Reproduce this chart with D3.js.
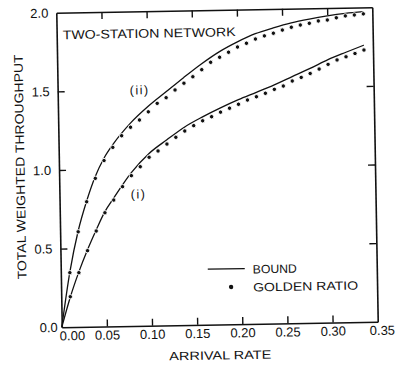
<!DOCTYPE html>
<html>
<head>
<meta charset="utf-8">
<script src="https://cdn.jsdelivr.net/npm/d3@7"></script>
<style>
  html, body { margin: 0; padding: 0; background: #fff; }
  svg { display: block; -webkit-font-smoothing: antialiased; }
  text { font-family: "Liberation Sans", Arial, sans-serif; fill: #111; }
</style>
</head>
<body>
<svg id="chart" width="398" height="366"></svg>
<script>
// ---- data ----
const xTicks = [0, 0.05, 0.10, 0.15, 0.20, 0.25, 0.30, 0.35];
const xTickLabels = ["0.00", "0.05", "0.10", "0.15", "0.20", "0.25", "0.30", "0.35"];
const yTicks = [0, 0.5, 1.0, 1.5, 2.0];
const yTickLabels = ["0.0", "0.5", "1.0", "1.5", "2.0"];

const boundX  = [0, 0.01, 0.02, 0.03, 0.04, 0.05, 0.06, 0.08, 0.10, 0.12, 0.14, 0.16, 0.18, 0.20, 0.22, 0.24, 0.26, 0.28, 0.30, 0.32, 0.34];
const boundII = [0, 0.35, 0.61, 0.80, 0.955, 1.07, 1.155, 1.29, 1.395, 1.485, 1.575, 1.66, 1.735, 1.795, 1.845, 1.88, 1.91, 1.932, 1.95, 1.964, 1.973];
const boundI  = [0, 0.19, 0.35, 0.49, 0.615, 0.73, 0.815, 0.975, 1.095, 1.18, 1.26, 1.322, 1.377, 1.427, 1.472, 1.518, 1.568, 1.618, 1.672, 1.717, 1.76];

const dotX = [0.01, 0.02, 0.03, 0.04, 0.05, 0.06, 0.07, 0.08, 0.09, 0.10,
              0.11, 0.12, 0.13, 0.14, 0.15, 0.16, 0.17, 0.18, 0.19, 0.20,
              0.21, 0.22, 0.23, 0.24, 0.25, 0.26, 0.27, 0.28, 0.29, 0.30,
              0.31, 0.32, 0.33, 0.34];
const dotsII = [0.346, 0.605, 0.795, 0.943, 1.055, 1.138, 1.211, 1.264, 1.309, 1.36,
                1.413, 1.448, 1.496, 1.538, 1.578, 1.622, 1.668, 1.699, 1.730, 1.762,
                1.785, 1.811, 1.830, 1.846, 1.865, 1.882, 1.895, 1.905, 1.919, 1.924,
                1.937, 1.948, 1.953, 1.959];
const dotsI  = [0.193, 0.345, 0.484, 0.608, 0.723, 0.803, 0.887, 0.956, 1.012, 1.071,
                1.11, 1.153, 1.195, 1.234, 1.267, 1.297, 1.322, 1.350, 1.374, 1.398,
                1.424, 1.444, 1.465, 1.489, 1.509, 1.540, 1.562, 1.586, 1.613, 1.642,
                1.669, 1.688, 1.708, 1.729];

const titleText = "TWO-STATION NETWORK";
const xTitle = "ARRIVAL RATE";
const yTitle = "TOTAL WEIGHTED THROUGHPUT";
const curveLabels = ["(ii)", "(i)"];
const legendLabels = ["BOUND", "GOLDEN RATIO"];

// ---- layout ----
const plotLeft = 59, plotRight = 375, plotTop = 10, plotBottom = 324.5;
const x = d3.scaleLinear().domain([0, 0.35]).range([plotLeft, plotRight]);
const y = d3.scaleLinear().domain([0, 2]).range([plotBottom, plotTop]);

const svg = d3.select("#chart");
const g = svg.append("g").attr("transform", "rotate(-1, 217, 167)");

const ink = "#111";

// axes (frame + inward ticks)
const fmtX = d => xTickLabels[xTicks.indexOf(d)];
const fmtY = d => yTickLabels[yTicks.indexOf(d)];

const axB = g.append("g").attr("transform", `translate(0,${plotBottom})`)
  .call(d3.axisBottom(x).tickValues(xTicks).tickFormat(fmtX).tickSizeInner(-7).tickSizeOuter(0).tickPadding(4));
const axT = g.append("g").attr("transform", `translate(0,${plotTop})`)
  .call(d3.axisTop(x).tickValues(xTicks.slice(1, -1)).tickFormat("").tickSizeInner(-7).tickSizeOuter(0));
const axL = g.append("g").attr("transform", `translate(${plotLeft},0)`)
  .call(d3.axisLeft(y).tickValues(yTicks).tickFormat(fmtY).tickSizeInner(-7).tickSizeOuter(0).tickPadding(8));
const axR = g.append("g").attr("transform", `translate(${plotRight},0)`)
  .call(d3.axisRight(y).tickValues(yTicks.slice(1, -1)).tickFormat("").tickSizeInner(-7).tickSizeOuter(0));

[axB, axT, axL, axR].forEach(a => {
  a.select(".domain").attr("stroke", ink).attr("stroke-width", 1.6);
  a.selectAll(".tick line").attr("stroke", ink).attr("stroke-width", 1.4);
  a.selectAll(".tick text").attr("fill", ink)
    .style("font-family", '"Liberation Sans", Arial, sans-serif').style("font-size", "13px");
});
// hide tick marks sitting on the frame corners
axB.selectAll(".tick line").filter(d => d === 0 || d === 0.35).remove();
axL.selectAll(".tick line").filter(d => d === 0 || d === 2).remove();
// nudge the corner labels as in the original
axB.selectAll(".tick text").filter(d => d === 0).attr("dx", 10);
axB.selectAll(".tick text").filter(d => d === 0.35).attr("dx", 4);
axL.selectAll(".tick text").filter(d => d === 0).attr("dx", 4);

// bound lines
const line = d3.line().x(d => x(d[0])).y(d => y(d[1])).curve(d3.curveMonotoneX);
[boundII, boundI].forEach(vals => {
  g.append("path")
    .datum(boundX.map((bx, i) => [bx, vals[i]]))
    .attr("d", line)
    .attr("fill", "none")
    .attr("stroke", ink)
    .attr("stroke-width", 1.3);
});

// golden ratio dots
[dotsII, dotsI].forEach(vals => {
  g.append("g").selectAll("circle")
    .data(dotX.map((dx, i) => [dx, vals[i]]))
    .join("circle")
    .attr("cx", d => x(d[0]))
    .attr("cy", d => y(d[1]))
    .attr("r", 2.2)
    .attr("fill", ink)
    .attr("stroke", "#fff")
    .attr("stroke-width", 0.9);
});

// texts
g.append("text").attr("x", 65).attr("y", 36.5).attr("fill", ink)
  .attr("textLength", 173).attr("lengthAdjust", "spacingAndGlyphs")
  .style("font-size", "12.5px").text(titleText);

g.append("text").attr("x", 141).attr("y", 93).attr("text-anchor", "middle").attr("fill", ink)
  .style("font-size", "12.5px").style("letter-spacing", "1.5px").text(curveLabels[0]);
g.append("text").attr("x", 138).attr("y", 197).attr("text-anchor", "middle").attr("fill", ink)
  .style("font-size", "12.5px").style("letter-spacing", "1.5px").text(curveLabels[1]);

g.append("text").attr("x", 166).attr("y", 359.5).attr("fill", ink)
  .attr("textLength", 102).attr("lengthAdjust", "spacingAndGlyphs")
  .style("font-size", "12px").text(xTitle);

g.append("text").attr("transform", "translate(24.5,276) rotate(-90)").attr("fill", ink)
  .attr("textLength", 225).attr("lengthAdjust", "spacingAndGlyphs")
  .style("font-size", "12.5px").text(yTitle);

// legend
g.append("line").attr("x1", 206).attr("x2", 243).attr("y1", 269).attr("y2", 269)
  .attr("stroke", ink).attr("stroke-width", 1.3);
g.append("circle").attr("cx", 229).attr("cy", 287.2).attr("r", 2.2).attr("fill", ink);
g.append("text").attr("x", 251).attr("y", 274).attr("fill", ink)
  .attr("textLength", 44).attr("lengthAdjust", "spacingAndGlyphs")
  .style("font-size", "12px").text(legendLabels[0]);
g.append("text").attr("x", 251).attr("y", 292).attr("fill", ink)
  .attr("textLength", 105).attr("lengthAdjust", "spacingAndGlyphs")
  .style("font-size", "12px").text(legendLabels[1]);
</script>
</body>
</html>
